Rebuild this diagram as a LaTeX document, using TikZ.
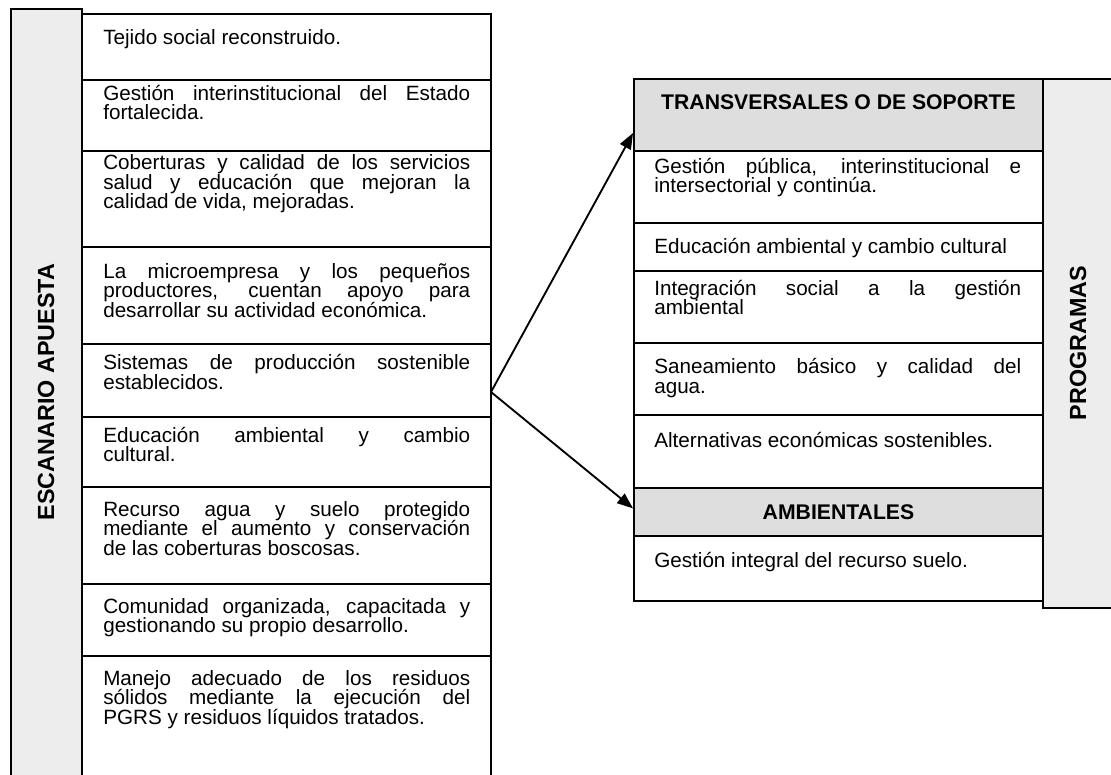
\documentclass[tikz,border=0pt]{standalone}
\usepackage{fontspec}
\setmainfont{Liberation Sans}
\usetikzlibrary{arrows.meta}
\tolerance=10000
\hyphenpenalty=10000
\lineskiplimit=-30pt

\begin{document}
\begin{tikzpicture}[x=0.75pt,y=-0.75pt,
  rule/.style={draw=black,line width=1.4pt},
  sidebox/.style={rule,fill=black!7},
  headcell/.style={rule,fill=black!13,minimum width=306.75pt,inner sep=0pt,
                   text height=11.4pt,
                   font=\fontsize{15.9pt}{18pt}\selectfont\bfseries},
  txt/.style={anchor=base west,inner sep=0pt,text width=275.25pt,align=justify,
              font=\fontsize{15.5pt}{14.8pt}\selectfont},
  side/.style={inner sep=0pt,rotate=90,
               font=\fontsize{17.5pt}{20pt}\selectfont\bfseries},
  arr/.style={-{Triangle[length=12pt,width=9pt]},line width=1.4pt}
]
\useasboundingbox (0,0) rectangle (1111,775);
\clip (0,0) rectangle (1111,775);

% scenario column
\filldraw[sidebox] (11,9) rectangle (82,800);
\node[side] (escenario) at (46,392) {ESCANARIO APUESTA};
\draw[rule] (82,14) rectangle (491,800);
\draw[rule] (82,80) -- (491,80);
\draw[rule] (82,151) -- (491,151);
\draw[rule] (82,247) -- (491,247);
\draw[rule] (82,344) -- (491,344);
\draw[rule] (82,417) -- (491,417);
\draw[rule] (82,487) -- (491,487);
\draw[rule] (82,584) -- (491,584);
\draw[rule] (82,656) -- (491,656);

\node[txt] (tejido) at (103,44.5) {Tejido social reconstruido.};
\node[txt] (gestado) at (103,100)
  {Gestión interinstitucional del Estado\linebreak fortalecida.};
\node[txt] (cobert) at (103,169.5)
  {Coberturas y calidad de los servicios\linebreak salud y educación que mejoran la\linebreak calidad de vida, mejoradas.};
\node[txt] (microemp) at (103,278)
  {La microempresa y los pequeños\linebreak productores, cuentan apoyo para\linebreak desarrollar su actividad económica.};
\node[txt] (sistemas) at (103,369.5)
  {Sistemas de producción sostenible\linebreak establecidos.};
\node[txt] (educa) at (103,442)
  {Educación ambiental y cambio\linebreak cultural.};
\node[txt] (recurso) at (103,516)
  {Recurso agua y suelo protegido\linebreak mediante el aumento y conservación\linebreak de las coberturas boscosas.};
\node[txt] (comunidad) at (103,613)
  {Comunidad organizada, capacitada y\linebreak gestionando su propio desarrollo.};
\node[txt] (residuos) at (103,685)
  {Manejo adecuado de los residuos\linebreak sólidos mediante la ejecución del\linebreak PGRS y residuos líquidos tratados.};

% programas column
\filldraw[sidebox] (1043,79) rectangle (1130,608);
\node[side] (programas) at (1078,343) {PROGRAMAS};
\node[headcell,minimum height=54pt,text depth=19.6pt] (transv) at (838.5,115)
  {TRANSVERSALES O DE SOPORTE};
\node[headcell,minimum height=36pt] (ambient) at (838.5,512) {AMBIENTALES};
\draw[rule] (634,79) rectangle (1043,601);
\draw[rule] (634,223) -- (1043,223);
\draw[rule] (634,271) -- (1043,271);
\draw[rule] (634,343) -- (1043,343);
\draw[rule] (634,415) -- (1043,415);

\node[txt] (gpublica) at (654,173)
  {Gestión pública, interinstitucional e\linebreak intersectorial y continúa.};
\node[txt] (edamb) at (654,253) {Educación ambiental y cambio cultural};
\node[txt] (integ) at (654,295)
  {Integración social a la gestión\linebreak ambiental};
\node[txt] (saneam) at (654,373.5)
  {Saneamiento básico y calidad del\linebreak agua.};
\node[txt] (altern) at (654,447.5) {Alternativas económicas sostenibles.};
\node[txt] (suelo) at (654,567) {Gestión integral del recurso suelo.};

% links
\coordinate (fork) at (491,392);
\draw[arr] (fork) -- (transv.185);
\draw[arr] (fork) -- (ambient.179);
\end{tikzpicture}
\end{document}
